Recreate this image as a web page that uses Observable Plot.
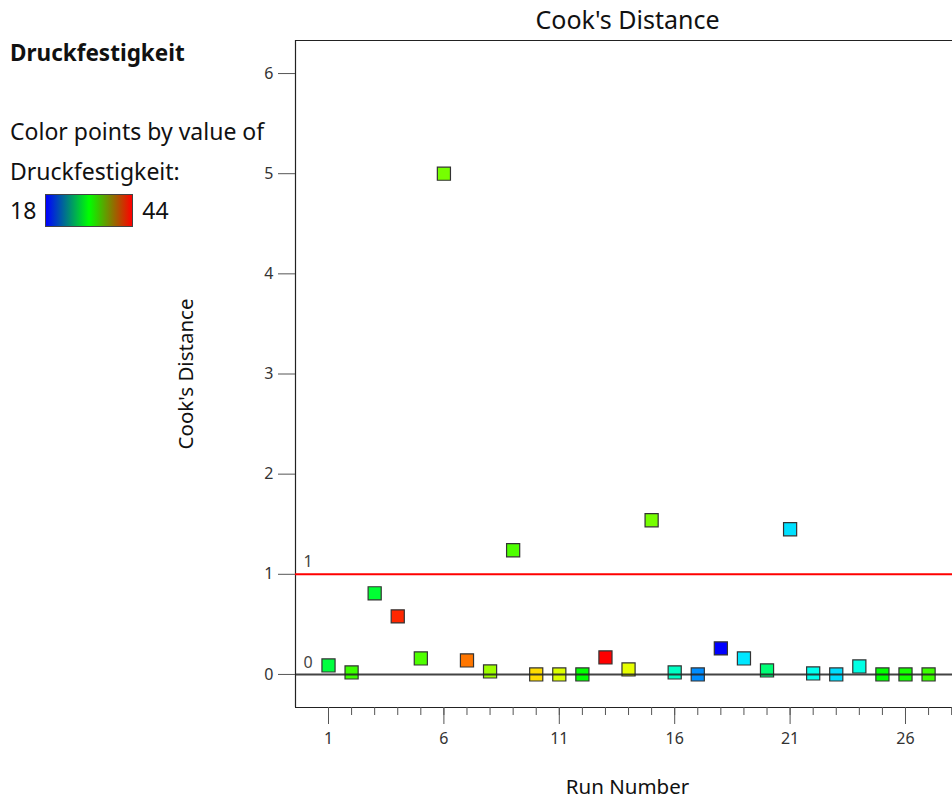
<!DOCTYPE html>
<html>
<head>
<meta charset="utf-8">
<script src="https://cdn.jsdelivr.net/npm/d3@7"></script>
<script src="https://cdn.jsdelivr.net/npm/@observablehq/plot@0.6"></script>
<style>
  html, body { margin: 0; padding: 0; background: #fff; overflow: hidden; }
  body { font-family: "Noto Sans", "Open Sans", sans-serif; width: 952px; height: 801px; position: relative; }
  #chart { position: absolute; left: 0; top: 0; width: 962px; }
  #chart svg { max-width: none !important; }
  .lg { position: absolute; left: 10px; color: #111; font-size: 23px; line-height: 30px; white-space: nowrap; }
  .lg.name { font-weight: bold; font-size: 22.5px; }
  .ramp { display: flex; align-items: center; height: 34px; line-height: 34px; }
  .bar { width: 88px; height: 33px; border: 1px solid #444; margin: 0 9px 0 9px; box-sizing: border-box;
    background: linear-gradient(to right, #0000ff, #00ff00, #ff0000); }
</style>
</head>
<body>
<div id="chart"></div>
<div class="lg name" style="top:38px">Druckfestigkeit</div>
<div class="lg" style="top:116px">Color points by value of</div>
<div class="lg" style="top:156px">Druckfestigkeit:</div>
<div class="lg ramp" style="top:193px"><span id="lo"></span><div class="bar"></div><span id="hi"></span></div>
<script>
// Run order of the experiment
const runs = [1, 2, 3, 4, 5, 6, 7, 8, 9, 10, 11, 12, 13, 14, 15, 16, 17, 18, 19, 20, 21, 22, 23, 24, 25, 26, 27];
// Cook's distance per run
const cooks = [0.09, 0.02, 0.81, 0.58, 0.16, 5.0, 0.14, 0.03, 1.24, 0.0, 0.0, 0.0, 0.17, 0.05, 1.54, 0.02, 0.0, 0.26, 0.16, 0.04, 1.45, 0.01, 0.0, 0.08, 0.0, 0.0, 0.0];
// Measured Druckfestigkeit per run (used for point colour)
const strength = [29.4, 32.5, 29.7, 43, 33, 34, 41, 35, 33, 38.4, 36.6, 31, 44, 36.9, 34, 26, 21.6, 18, 23.9, 28, 23.7, 24.9, 23.6, 25.2, 31, 31.5, 32.5];
// Axis ticks and reference lines
const yTicks = [0, 1, 2, 3, 4, 5, 6];
const xMajor = [1, 6, 11, 16, 21, 26];
const xMinor = [1, 2, 3, 4, 5, 6, 7, 8, 9, 10, 11, 12, 13, 14, 15, 16, 17, 18, 19, 20, 21, 22, 23, 24, 25, 26, 27, 28];
const limitLine = [1];
const zeroLine = [0];
const colorRange = [18, 44];

document.getElementById("lo").textContent = colorRange[0];
document.getElementById("hi").textContent = colorRange[1];

const data = runs.map((r, i) => ({run: r, d: cooks[i], s: strength[i]}));
const xDomain = [-0.43, 28.34];
const yDomain = [-0.33, 6.33];
const font = "'Noto Sans', 'Open Sans', sans-serif";

const chart = Plot.plot({
  width: 962,
  height: 801,
  marginLeft: 295,
  marginRight: 3,
  marginTop: 40,
  marginBottom: 94,
  style: {fontFamily: font, fontSize: "16px", color: "#333", background: "white", maxWidth: "none"},
  x: {domain: xDomain, axis: null},
  y: {domain: yDomain, axis: null},
  color: {type: "linear", domain: [18, 31, 44], range: ["#0000ff", "#00ff00", "#ff0000"], interpolate: "hsl"},
  marks: [
    // frame: top, bottom, left, right
    Plot.ruleY([yDomain[1]], {stroke: "#222", strokeWidth: 1.2}),
    Plot.ruleY([yDomain[0]], {stroke: "#222", strokeWidth: 1.2}),
    Plot.ruleX([xDomain[0]], {stroke: "#222", strokeWidth: 1.2}),
    Plot.ruleX([xDomain[1]], {stroke: "#222", strokeWidth: 1.2}),
    // axes
    Plot.axisY({ticks: yTicks, tickSize: 17, tickPadding: 5, tickFormat: "d", stroke: "#555", fill: "#333", fontSize: 16, label: null}),
    Plot.axisX({ticks: xMinor, tickSize: 8, stroke: "#555", tickFormat: () => "", label: null}),
    Plot.axisX({ticks: xMajor, tickSize: 17, tickPadding: 8, tickFormat: "d", stroke: "#555", fill: "#333", fontSize: 16, label: null}),
    // limit line at 1
    Plot.ruleY(limitLine, {stroke: "#ff0000", strokeWidth: 2}),
    Plot.text(limitLine, {y: d => d, frameAnchor: "left", text: d => String(d), dx: 8, dy: -12, fill: "#444", fontSize: 16}),
    // points
    Plot.dot(data, {x: "run", y: "d", fill: "s", symbol: "square", r: 7.4, stroke: "#333", strokeWidth: 1.2}),
    // zero baseline
    Plot.ruleY(zeroLine, {stroke: "#222", strokeWidth: 2, strokeOpacity: 0.85}),
    Plot.text(zeroLine, {y: d => d, frameAnchor: "left", text: d => String(d), dx: 8, dy: -12, fill: "#444", fontSize: 16}),
    // titles
    Plot.text(["Cook's Distance"], {frameAnchor: "top", lineAnchor: "middle", dy: -20, fontSize: 25, fill: "#111"}),
    Plot.text(["Run Number"], {frameAnchor: "bottom", lineAnchor: "middle", dy: 80, fontSize: 20.5, fill: "#111"}),
    Plot.text(["Cook's Distance"], {frameAnchor: "left", textAnchor: "middle", dx: -109, rotate: -90, fontSize: 20.5, fill: "#111"})
  ]
});
document.getElementById("chart").appendChild(chart);
</script>
</body>
</html>
